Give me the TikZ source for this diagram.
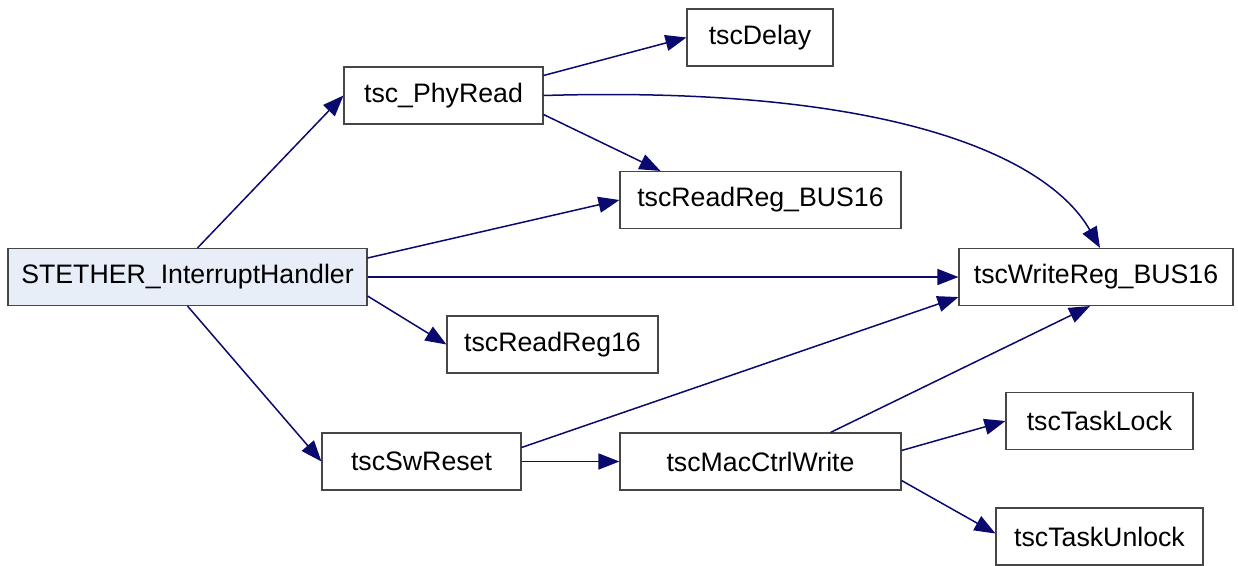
\documentclass[tikz,border=0pt]{standalone}
\usepackage{fontspec}
\setmainfont{Liberation Sans}
\usetikzlibrary{arrows.meta}
\definecolor{edgeblue}{RGB}{10,10,110}
\definecolor{boxgray}{RGB}{70,70,70}
\definecolor{rootfill}{RGB}{232,238,248}
\begin{document}
\begin{tikzpicture}[x=1pt,y=-1pt,->,>={Triangle[length=21pt,width=16pt]},
                    line width=1.5pt,
                    fn/.style={shape=rectangle,draw=boxgray,line width=1.1pt,fill=white,
                      minimum height=57pt,inner sep=0pt,text=black,
                      font=\fontsize{26.7}{32}\selectfont},
                    call/.style={color=edgeblue}]
  \useasboundingbox (0,0) rectangle (1238,565);

  \node[fn,fill=rootfill,minimum width=359pt] (IH) at (187.5,277)   {STETHER\_InterruptHandler};
  \node[fn,minimum width=199pt] (PR)  at (443.5,95.5)  {tsc\_PhyRead};
  \node[fn,minimum width=146pt] (DL)  at (760,37.5)    {tscDelay};
  \node[fn,minimum width=281pt] (RB)  at (760.5,200)   {tscReadReg\_BUS16};
  \node[fn,minimum width=274pt] (WB)  at (1096,277)    {tscWriteReg\_BUS16};
  \node[fn,minimum width=211pt] (R16) at (552.5,344.5) {tscReadReg16};
  \node[fn,minimum width=199pt] (SR)  at (421.5,461.5) {tscSwReset};
  \node[fn,minimum width=281pt] (MC)  at (760.5,461.5) {tscMacCtrlWrite};
  \node[fn,minimum width=187pt] (TL)  at (1099.5,421)  {tscTaskLock};
  \node[fn,minimum width=207pt] (TU)  at (1099.5,536.5) {tscTaskUnlock};

  \path[call] ([xshift=10pt]IH.north) edge (PR.west)
        ([yshift=19pt]IH.east) edge (RB.west)
        (IH.east) edge (WB.west)
        ([yshift=-19pt]IH.east) edge (R16.west)
        (IH.south) edge (SR.west)
        ([yshift=20pt]PR.east) edge (DL.west)
        ([yshift=-19pt]PR.east) edge ([xshift=-100pt]RB.north)
        ([yshift=14pt]SR.east) edge ([yshift=9pt]WB.south west)
        (SR.east) edge (MC.west)
        ([xshift=70pt]MC.north) edge ([xshift=-6pt]WB.south)
        ([yshift=11pt]MC.east) edge (TL.west)
        ([yshift=-19pt]MC.east) edge ([yshift=3pt]TU.west);

  % the long call round the top
  \draw[call] (PR.east) .. controls (900,85) and (1050,160) .. ([xshift=4pt]WB.north);
\end{tikzpicture}
\end{document}
